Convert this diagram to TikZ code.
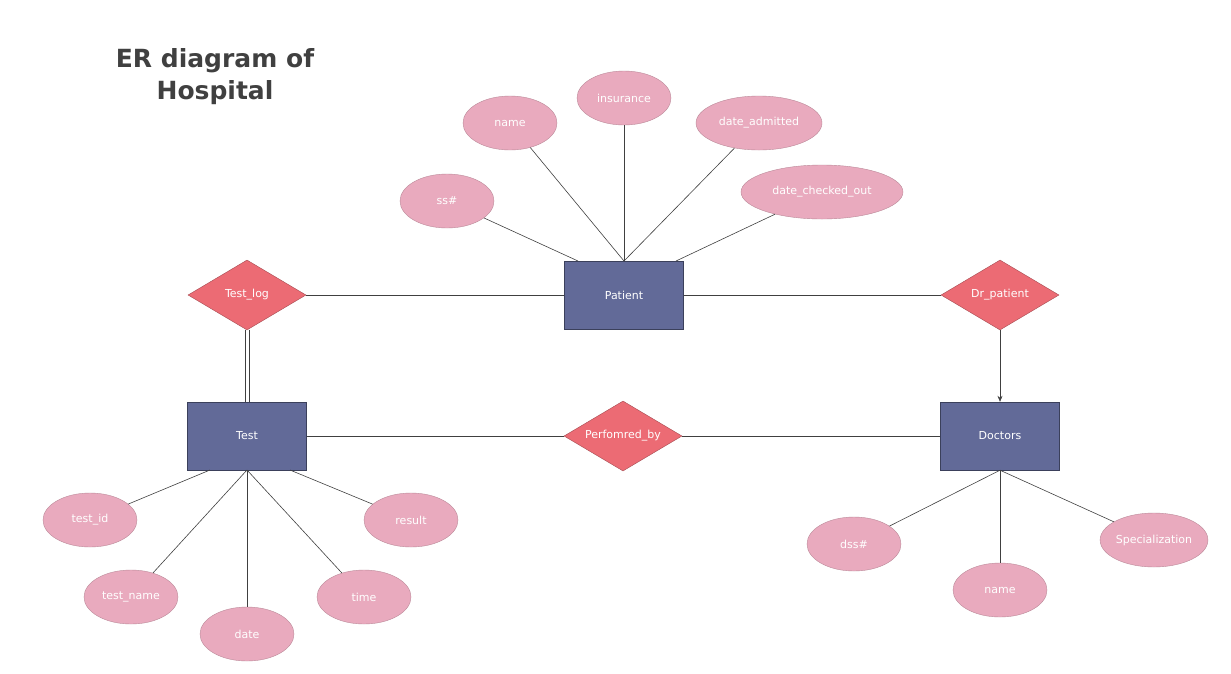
\documentclass[tikz,border=0pt]{standalone}
\usepackage{fontspec}
\setmainfont{DejaVu Sans}
\usetikzlibrary{shapes.geometric,arrows.meta}
\definecolor{attr}{HTML}{E9AABE}
\definecolor{ent}{HTML}{626A98}
\definecolor{rel}{HTML}{EC6B74}
\tikzset{x=1pt,y=-1pt,
 ent/.style={draw=ent!60!black,fill=ent,minimum width=119pt,minimum height=68pt,text=white,font=\fontsize{11}{13}\selectfont},
 rel/.style={diamond,draw=rel!70!black,fill=rel,minimum width=118pt,minimum height=70pt,aspect=1.7,inner sep=0pt,text=white,font=\fontsize{11}{13}\selectfont},
 attr/.style={ellipse,draw=attr!80!black,fill=attr,minimum height=54pt,inner sep=0pt,text=white,font=\fontsize{11}{13}\selectfont},
 ln/.style={draw=black!75,line width=0.6pt}}
\begin{document}
\begin{tikzpicture}
\useasboundingbox (0,0) rectangle (1231,673);
\node[font=\bfseries\fontsize{25}{32}\selectfont,text=black!75,align=center] (title) at (215,77) {ER diagram of\\Hospital};
\node[ent] (pat) at (624,295) {Patient};
\node[ent] (test) at (247,436) {Test};
\node[ent] (doc) at (1000,436) {Doctors};
\node[rel,minimum width=118pt,minimum height=70pt] (tl) at (247,295) {};
\node[text=white,font=\fontsize{11}{13}\selectfont] at (247,295) {Test\_log};
\node[rel] (dp) at (1000,295) {};
\node[text=white,font=\fontsize{11}{13}\selectfont] at (1000,295) {Dr\_patient};
\node[rel] (pb) at (623,436) {};
\node[text=white,font=\fontsize{11}{13}\selectfont] at (623,436) {Perfomred\_by};
\node[attr,minimum width=94pt] (ss) at (447,201) {ss\#};
\node[attr,minimum width=94pt] (nm) at (510,123) {name};
\node[attr,minimum width=94pt] (ins) at (624,98) {insurance};
\node[attr,minimum width=126pt] (da) at (759,123) {date\_admitted};
\node[attr,minimum width=162pt] (dc) at (822,192) {date\_checked\_out};
\node[attr,minimum width=94pt] (tid) at (90,520) {test\_id};
\node[attr,minimum width=94pt] (tn) at (131,597) {test\_name};
\node[attr,minimum width=94pt] (dt) at (247,634) {date};
\node[attr,minimum width=94pt] (tm) at (364,597) {time};
\node[attr,minimum width=94pt] (res) at (411,520) {result};
\node[attr,minimum width=94pt] (dss) at (854,544) {dss\#};
\node[attr,minimum width=94pt] (dn) at (1000,590) {name};
\node[attr,minimum width=104pt] (sp) at (1154,540) {Specialization};
\coordinate (pa) at (578,261);
\coordinate (pb2) at (624,261);
\coordinate (pc) at (676,261);
\draw[ln] (ss) -- (pa);
\draw[ln] (nm) -- (pb2);
\draw[ln] (ins) -- (pb2);
\draw[ln] (da) -- (pb2);
\draw[ln] (dc) -- (pc);
\draw[ln] (tl.east) -- (pat.west);
\draw[ln] (pat.east) -- (dp.west);
\draw[ln,-{Stealth[length=6pt,width=5pt]}] (dp.south) -- (doc.north);
\draw[ln] ([xshift=-2pt]tl.south) -- ([xshift=-2pt]test.north);
\draw[ln] ([xshift=2pt]tl.south) -- ([xshift=2pt]test.north);
\draw[ln] (test.east) -- (pb.west);
\draw[ln] (pb.east) -- (doc.west);
\coordinate (ta) at (210,470);
\coordinate (tb) at (247,470);
\coordinate (tc) at (290,470);
\draw[ln] (tid) -- (ta);
\draw[ln] (tn) -- (tb);
\draw[ln] (dt) -- (tb);
\draw[ln] (tm) -- (tb);
\draw[ln] (res) -- (tc);
\draw[ln] (dss) -- (doc.south);
\draw[ln] (dn) -- (doc.south);
\draw[ln] (sp) -- (doc.south);
\end{tikzpicture}
\end{document}
